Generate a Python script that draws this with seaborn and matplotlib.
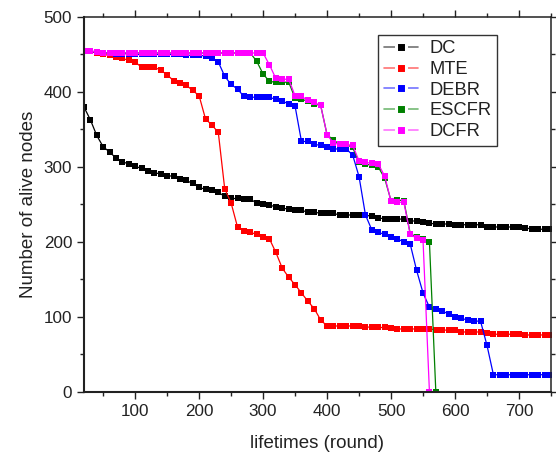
import matplotlib
matplotlib.use("Agg")
import matplotlib.pyplot as plt
from matplotlib.lines import Line2D
from matplotlib.colors import to_rgba
import pandas as pd
import seaborn as sns

# rounds sampled every 10 from 20 to 750
rounds = list(range(20, 760, 10))

dc = [380, 363, 342, 327, 320, 312, 307, 304, 301, 298, 294, 292, 291, 288, 288,
      284, 282, 278, 273, 270, 269, 266, 261, 258, 258, 257, 257, 252, 251, 249,
      247, 245, 244, 242, 242, 240, 240, 238, 238, 238, 236, 236, 236, 236, 236,
      234, 232, 231, 231, 231, 230, 228, 228, 226, 225, 224, 224, 224, 223, 223,
      223, 223, 223, 220, 220, 220, 220, 220, 220, 219, 217, 217, 217, 217]

mte = [455, 454, 452, 450, 449, 446, 445, 442, 440, 433, 433, 433, 429, 423, 415,
       412, 409, 402, 395, 364, 356, 346, 271, 252, 220, 215, 213, 210, 206, 204,
       186, 165, 153, 143, 132, 121, 111, 96, 88, 88, 88, 88, 88, 88, 87,
       86, 86, 86, 85, 84, 84, 84, 84, 84, 84, 83, 83, 82, 82, 80,
       80, 80, 80, 78, 77, 77, 77, 77, 77, 76, 76, 76, 76, 76]

debr = [455, 454, 453, 452, 452, 451, 451, 451, 450, 450, 450, 450, 450, 450, 450,
        450, 449, 449, 449, 448, 445, 440, 421, 410, 404, 394, 393, 393, 393, 393,
        390, 388, 384, 381, 334, 334, 330, 329, 327, 324, 324, 324, 316, 287, 236,
        216, 213, 210, 206, 204, 200, 197, 162, 132, 113, 111, 108, 104, 100, 98,
        96, 95, 94, 62, 23, 23, 23, 23, 23, 23, 23, 23, 23, 23]

escfr = [455, 455, 453, 452, 452, 452, 452, 452, 452, 452, 452, 452, 452, 452, 452,
         452, 452, 452, 452, 452, 452, 452, 452, 452, 452, 452, 452, 441, 424, 414,
         413, 413, 413, 392, 390, 388, 384, 382, 343, 336, 330, 330, 326, 306, 304,
         302, 300, 285, 255, 256, 255, 211, 207, 204, 200, 0]

dcfr = [455, 455, 453, 452, 452, 452, 452, 452, 452, 452, 452, 452, 452, 452, 452,
        452, 452, 452, 452, 452, 452, 452, 452, 452, 452, 452, 452, 452, 452, 436,
        418, 417, 417, 395, 394, 389, 386, 382, 343, 332, 330, 330, 329, 308, 306,
        305, 304, 288, 254, 253, 253, 210, 205, 202, 0]

names = ["DC", "MTE", "DEBR", "ESCFR", "DCFR"]
colors = ["#000000", "#ff0000", "#0000ff", "#008000", "#ff00ff"]
series = [dc, mte, debr, escfr, dcfr]

sns.set_style("ticks")
plt.rcParams["font.family"] = ["Liberation Sans", "DejaVu Sans"]
plt.rcParams["font.size"] = 12

fig = plt.figure(figsize=(5.56, 4.53), dpi=100)
ax = fig.add_axes([0.151, 0.1347, 0.840, 0.8278])

for name, color, vals in zip(names, colors, series):
    df = pd.DataFrame({"round": rounds[:len(vals)], "alive": vals})
    sns.lineplot(data=df, x="round", y="alive", color=color, linewidth=0.9,
                 marker="s", markersize=4.2, markeredgewidth=0, ax=ax)

ax.set_xlim(20, 750)
ax.set_ylim(0, 500)
ax.set_xticks([100, 200, 300, 400, 500, 600, 700])
ax.set_xticks(range(50, 751, 100), minor=True)
ax.set_yticks([0, 100, 200, 300, 400, 500])
ax.set_yticks([50, 150, 250, 350, 450], minor=True)
ax.tick_params(which="both", direction="out", top=True, right=True,
               labelsize=12.3, color="#222222", labelcolor="#222222")
ax.tick_params(which="major", length=5, width=1)
ax.tick_params(which="minor", length=3, width=1)
for s in ax.spines.values():
    s.set_visible(True)
    s.set_color("#222222")
    s.set_linewidth(1.1)
ax.spines["left"].set_linewidth(1.5)
ax.spines["bottom"].set_linewidth(1.5)

ax.set_xlabel("lifetimes (round)", fontsize=13.5, labelpad=12, color="#222222")
ax.set_ylabel("Number of alive nodes", fontsize=13.5, labelpad=5, color="#222222")

handles = [Line2D([0], [0], color=to_rgba(c, 0.55), linewidth=1.2, marker="s",
                  markersize=7, markerfacecolor=c, markeredgecolor="white",
                  markeredgewidth=2.2) for c in colors]
leg = fig.legend(handles, names, loc="upper left", bbox_to_anchor=(0.680, 0.923),
                 borderaxespad=0, fancybox=False, edgecolor="#333333",
                 framealpha=1, fontsize=13.2, handlelength=1.9, handletextpad=0.6,
                 labelspacing=0.2, borderpad=0.3)
leg.get_frame().set_linewidth(1.0)
for t in leg.get_texts():
    t.set_color("#222222")

fig.savefig("out.png", dpi=100)
